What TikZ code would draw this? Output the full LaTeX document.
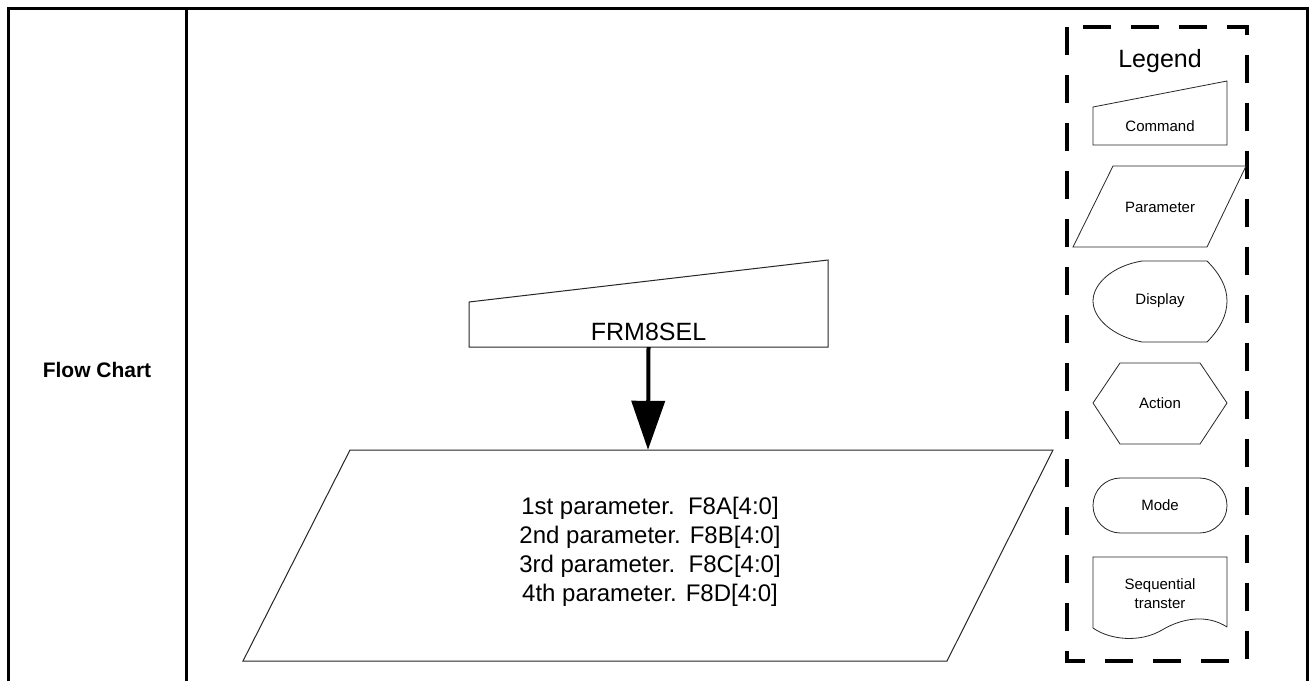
\documentclass[tikz,border=0pt]{standalone}
\usepackage{fontspec}
\setmainfont{Liberation Sans}
\usetikzlibrary{arrows.meta}
\begin{document}
\begin{tikzpicture}[x=1pt,y=-1pt,
  frameline/.style={line width=3pt,black},
  shapeline/.style={line width=1pt,black!85,line join=miter},
  smallshape/.style={line width=0.8pt,black!85,line join=miter},
  legendbox/.style={line width=4pt,black,dash pattern=on 28pt off 20pt},
  bigtext/.style={font=\fontsize{24}{29}\selectfont,align=center,inner sep=0pt},
  smalltext/.style={font=\fontsize{15}{19}\selectfont,align=center,inner sep=0pt},
  ghost/.style={draw=none,inner sep=0pt,minimum width=#1},
  arrowline/.style={line width=4pt,-{Triangle[length=49pt,width=33pt]}}
]
\useasboundingbox (0,0) rectangle (1311,680);
\fill[white] (0,0) rectangle (1311,680);
% frame
\draw[frameline] (8,681) -- (8,8) -- (1307,8) -- (1307,681);
\draw[frameline] (186,8) -- (186,681);
\node[font=\bfseries\fontsize{21}{25}\selectfont,inner sep=0pt] (fc) at (97,370) {Flow Chart};

% main command shape
\draw[shapeline] (469,302) -- (828,260) -- (828,347) -- (469,347) -- cycle;
\node[ghost=359pt,minimum height=87pt] (cmd) at (648.5,303.5) {};
\node[font=\fontsize{25}{30}\selectfont,inner sep=0pt,anchor=base] (cmdt) at (648.5,340) {FRM8SEL};

% main parameter shape
\draw[shapeline] (350,450) -- (1053,450) -- (947,661) -- (243,661) -- cycle;
\node[ghost=700pt,minimum height=211pt] (par) at (648,555.5) {};
\node[bigtext] (part) at (650,552) {1st parameter.\ \ F8A[4:0]\\2nd parameter. F8B[4:0]\\3rd parameter.\ \ F8C[4:0]\\4th parameter. F8D[4:0]};

\draw[arrowline] (cmd.south) -- (par.north);

% legend
\draw[legendbox] (1067,27) rectangle (1247,661);
\node[font=\fontsize{25}{30}\selectfont,inner sep=0pt,anchor=base] (leg) at (1160,67) {Legend};

% command
\draw[smallshape] (1093,107) -- (1227,81) -- (1227,145) -- (1093,145) -- cycle;
\node[smalltext,anchor=base] (lcmd) at (1160,131) {Command};

% parameter
\draw[smallshape] (1113,166) -- (1246,166) -- (1207,247) -- (1073,247) -- cycle;
\node[smalltext,anchor=base] (lpar) at (1160,212) {Parameter};

% display
\draw[smallshape] (1142,261) -- (1207,261) .. controls (1220,274) and (1227,287) .. (1227,301)
  .. controls (1227,315) and (1220,329) .. (1207,342) -- (1142,342)
  .. controls (1112,336) and (1093,318) .. (1093,301)
  .. controls (1093,284) and (1112,266) .. cycle;
\node[smalltext] (ldis) at (1160,301) {Display};

% action
\draw[smallshape] (1093,403) -- (1120,363) -- (1200,363) -- (1227,403) -- (1200,444) -- (1120,444) -- cycle;
\node[smalltext] (lact) at (1160,403) {Action};

% mode
\draw[smallshape,rounded corners=27.5pt] (1093,478) rectangle (1227,533);
\node[smalltext] (lmod) at (1160,505.5) {Mode};

% sequential transfer
\draw[smallshape] (1227,627) -- (1227,557) -- (1093,557) -- (1093,628)
  .. controls (1110,640) and (1140,643) .. (1162,630)
  .. controls (1182,618) and (1207,614) .. (1227,627);
\node[smalltext] (lseq) at (1160,594) {Sequential\\transter};
\end{tikzpicture}
\end{document}
